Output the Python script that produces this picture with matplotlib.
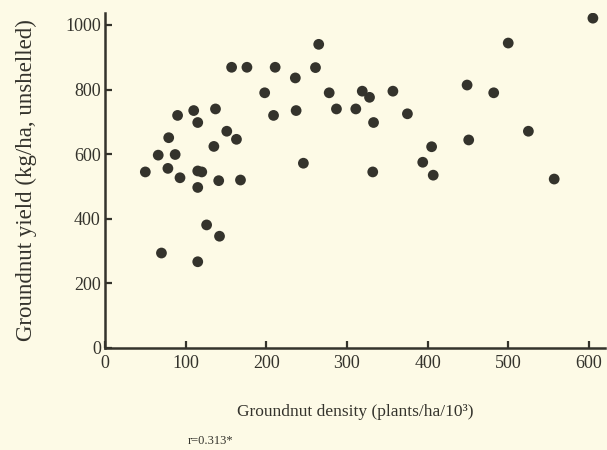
import matplotlib
matplotlib.use("Agg")
import matplotlib.pyplot as plt

# Groundnut density (plants/ha/10^3) and yield (kg/ha, unshelled)
density = [50, 66, 70, 78, 79, 87, 90, 93, 110, 115, 115, 120, 115, 115,
           126, 135, 137, 141, 142, 151, 157, 163, 168, 176, 198, 209, 211,
           236, 237, 246, 261, 265, 278, 287, 311, 319, 328, 333, 332, 357,
           375, 394, 405, 407, 449, 451, 482, 500, 525, 557, 605]
yield_kg = [545, 597, 294, 556, 651, 599, 720, 527, 735, 698, 548, 545, 497, 267,
            381, 624, 740, 518, 346, 671, 869, 646, 520, 869, 790, 720, 869,
            836, 735, 572, 868, 940, 790, 740, 740, 795, 776, 698, 545, 795,
            725, 575, 623, 535, 814, 644, 790, 944, 671, 523, 1021]

xticks = [0, 100, 200, 300, 400, 500, 600]
yticks = [0, 200, 400, 600, 800, 1000]

bg = "#fdfae6"
ink = "#34332c"

plt.rcParams['font.family'] = ['Liberation Serif', 'DejaVu Serif']

fig = plt.figure(figsize=(6.07, 4.5), dpi=100, facecolor=bg)
ax = fig.add_axes([105/607, 1-348/450, 500/607, 335/450], facecolor=bg)

ax.scatter(density, yield_kg, s=60, color=ink, edgecolors='none', zorder=3)

ax.set_xlim(0, 620)
ax.set_ylim(0, 1037)
ax.set_xticks(xticks)
ax.set_yticks(yticks)
for s in ['top', 'right']:
    ax.spines[s].set_visible(False)
for s in ['left', 'bottom']:
    ax.spines[s].set_color(ink)
    ax.spines[s].set_linewidth(1.8)
ax.tick_params(direction='in', length=5, width=1.6, color=ink,
               labelcolor=ink, labelsize=13)
ax.tick_params(axis='x', pad=5)
ax.tick_params(axis='y', pad=3)

ax.set_xlabel("Groundnut density (plants/ha/10³)", fontsize=12.5,
              color=ink, labelpad=23)
ax.set_ylabel("Groundnut yield (kg/ha, unshelled)", fontsize=16.5,
              color=ink, labelpad=20)

fig.text(188/607, 1-441/450, "r=0.313*", fontsize=9, color=ink,
         ha='left', va='center')

fig.savefig("out.png", dpi=100, facecolor=bg)
